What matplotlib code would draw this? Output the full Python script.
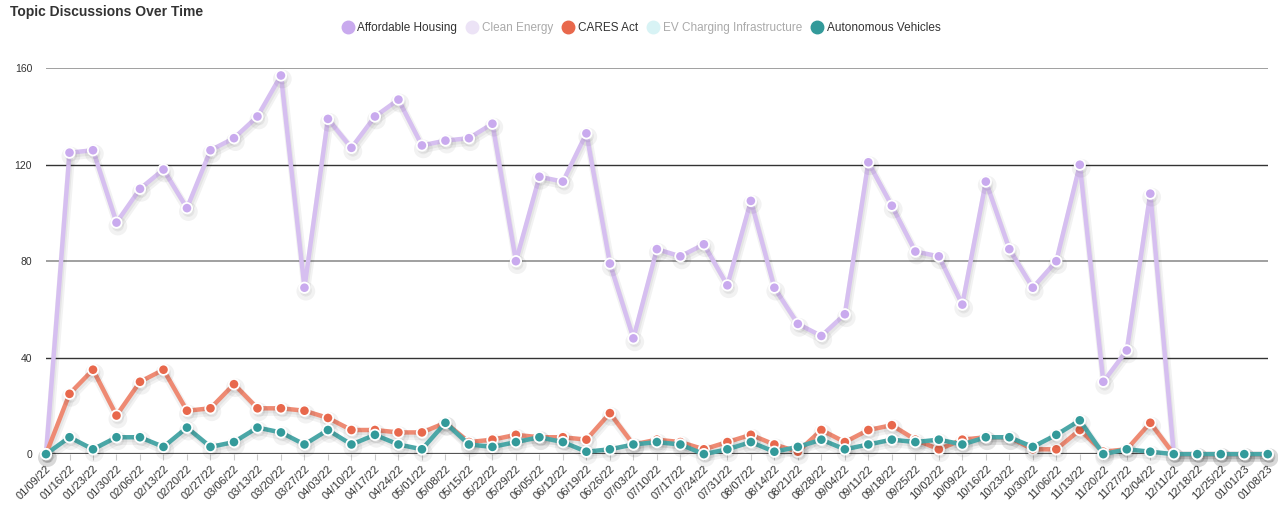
import matplotlib
matplotlib.use("Agg")
import matplotlib.pyplot as plt
import matplotlib.patheffects as pe
from matplotlib.lines import Line2D

plt.rcParams["font.family"] = ["Liberation Sans", "DejaVu Sans"]

weeks = [
    "01/09/22", "01/16/22", "01/23/22", "01/30/22", "02/06/22", "02/13/22", "02/20/22",
    "02/27/22", "03/06/22", "03/13/22", "03/20/22", "03/27/22", "04/03/22", "04/10/22",
    "04/17/22", "04/24/22", "05/01/22", "05/08/22", "05/15/22", "05/22/22", "05/29/22",
    "06/05/22", "06/12/22", "06/19/22", "06/26/22", "07/03/22", "07/10/22", "07/17/22",
    "07/24/22", "07/31/22", "08/07/22", "08/14/22", "08/21/22", "08/28/22", "09/04/22",
    "09/11/22", "09/18/22", "09/25/22", "10/02/22", "10/09/22", "10/16/22", "10/23/22",
    "10/30/22", "11/06/22", "11/13/22", "11/20/22", "11/27/22", "12/04/22", "12/11/22",
    "12/18/22", "12/25/22", "01/01/23", "01/08/23",
]

affordable_housing = [
    0, 125, 126, 96, 110, 118, 102, 126, 131, 140, 157, 69, 139, 127, 140, 147,
    128, 130, 131, 137, 80, 115, 113, 133, 79, 48, 85, 82, 87, 70, 105, 69, 54,
    49, 58, 121, 103, 84, 82, 62, 113, 85, 69, 80, 120, 30, 43, 108, 0, 0, 0, 0, 0,
]
cares_act = [
    0, 25, 35, 16, 30, 35, 18, 19, 29, 19, 19, 18, 15, 10, 10, 9,
    9, 13, 5, 6, 8, 7, 7, 6, 17, 4, 6, 5, 2, 5, 8, 4, 1,
    10, 5, 10, 12, 6, 2, 6, 7, 7, 2, 2, 10, 1, 2, 13, 0, 0, 0, 0, 0,
]
autonomous_vehicles = [
    0, 7, 2, 7, 7, 3, 11, 3, 5, 11, 9, 4, 10, 4, 8, 4,
    2, 13, 4, 3, 5, 7, 5, 1, 2, 4, 5, 4, 0, 2, 5, 1, 3,
    6, 2, 4, 6, 5, 6, 4, 7, 7, 3, 8, 14, 0, 2, 1, 0, 0, 0, 0, 0,
]

series_names = ["Affordable Housing", "Clean Energy", "CARES Act",
                "EV Charging Infrastructure", "Autonomous Vehicles"]
y_ticks = [0, 40, 80, 120, 160]

fig = plt.figure(figsize=(12.78, 5.25), dpi=100)
ax = fig.add_axes([0.036, 0.135, 0.956, 0.735])

x = list(range(len(weeks)))

# gridlines: alternating grey / dark
for i, v in enumerate(y_ticks):
    if v == 0:
        ax.axhline(v, color="#555555", lw=1.6, zorder=1)
    elif i % 2 == 0:
        ax.axhline(v, color="#999999", lw=1.3, zorder=1)
    else:
        ax.axhline(v, color="#333333", lw=1.0, zorder=1)

# soft drop shadow
shadow = [pe.SimpleLineShadow(offset=(1, -2.5), shadow_color="black", alpha=0.05,
                              linewidth=6),
          pe.SimpleLineShadow(offset=(1, -2), shadow_color="black", alpha=0.05),
          pe.Normal()]

styles = [
    (affordable_housing, "#d6bff0", "#c9aaee"),
    (cares_act, "#ee8a73", "#e8684c"),
    (autonomous_vehicles, "#4ba7a7", "#339a9a"),
]
for vals, line_c, mark_c in styles:
    ax.plot(x, vals, color=line_c, lw=3.2, marker="o", ms=7.5,
            markerfacecolor=mark_c, markeredgecolor="white", markeredgewidth=1.3,
            clip_on=False, zorder=3, path_effects=shadow)

ax.set_xlim(0, len(weeks) - 1)
ax.set_ylim(0, 160)
ax.set_yticks(y_ticks)
ax.set_xticks(x)
ax.set_xticklabels(weeks, rotation=45, ha="right", rotation_mode="anchor",
                   fontsize=8, color="#333333")
ax.tick_params(axis="x", length=4, color="#cccccc", pad=3)
ax.tick_params(axis="y", length=0, pad=10, labelsize=7.5, labelcolor="#333333")
for s in ax.spines.values():
    s.set_visible(False)

fig.text(10 / 1278, 1 - 12 / 525, "Topic Discussions Over Time", fontsize=10,
         fontweight="bold", color="#333333", va="center", ha="left")

legend_colors = ["#c9aaee", "#ece3f6", "#e8684c", "#d8f3f5", "#339a9a"]
handles = [Line2D([], [], lw=0, marker="o", ms=9, markerfacecolor=c,
                  markeredgecolor=c) for c in legend_colors]
leg = fig.legend(handles, series_names, loc="center", ncol=5, frameon=False,
                 bbox_to_anchor=(641 / 1278, 1 - 28 / 525), fontsize=8.5,
                 handletextpad=0.3, columnspacing=0.8, handlelength=1.0)
for i, t in enumerate(leg.get_texts()):
    t.set_color("#aaaaaa" if i in (1, 3) else "#333333")

fig.savefig("out.png", dpi=100)
